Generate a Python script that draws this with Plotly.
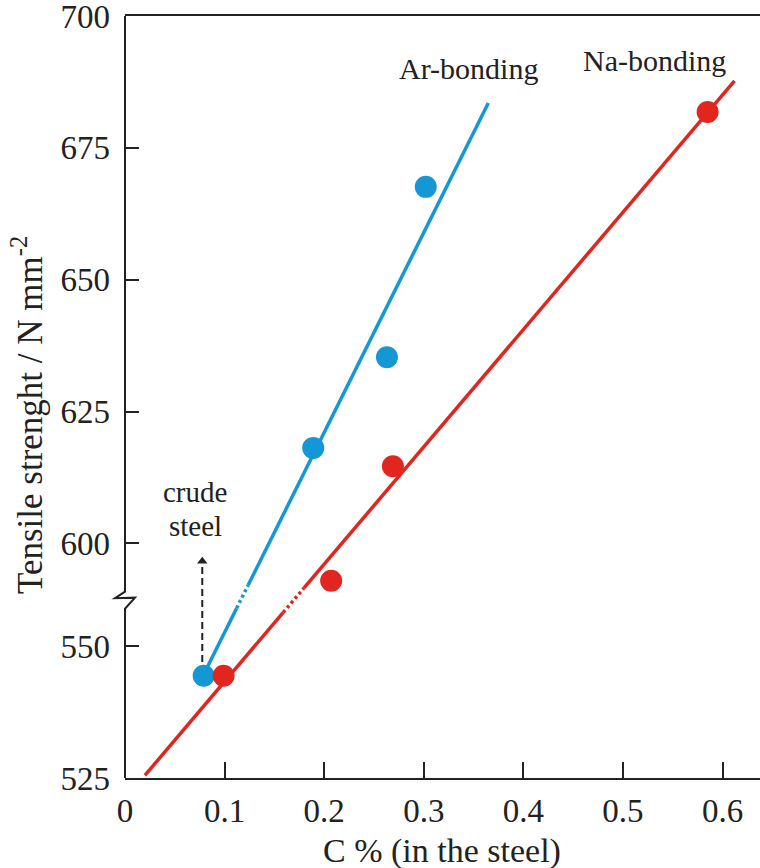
import numpy as np
import plotly.graph_objects as go

# ---------------- data ----------------
ar_x = [0.079, 0.189, 0.263, 0.302]
ar_y = [544.4, 618.1, 635.3, 667.6]
na_x = [0.099, 0.207, 0.269, 0.585]
na_y = [544.4, 592.9, 614.6, 681.8]

# guide (fit) lines: end points
ar_fit_x = [0.0786, 0.3648]
ar_fit_y = [544.5, 683.5]
na_fit_x = [0.020, 0.612]
na_fit_y = [525.5, 687.7]

y_tick_values = [700, 675, 650, 625, 600, 550, 525]
x_tick_values = [0, 0.1, 0.2, 0.3, 0.4, 0.5, 0.6]
x_tick_text = ["0", "0.1", "0.2", "0.3", "0.4", "0.5", "0.6"]

# broken y axis: values below the break are shifted up
BREAK_VALUE = 590.0
Y_SHIFT = 30.5


def disp(v):
    return v if v >= BREAK_VALUE else v + Y_SHIFT


def disp_list(vals):
    return [disp(v) for v in vals]


Y_MIN, Y_MAX = disp(525), 700.0
X_MIN, X_MAX = 0.0, 0.6376

# layout geometry
W, H = 760, 868
ML, MR, MT, MB = 125, 0, 16, 90
PW, PH = W - ML - MR, H - MT - MB

BLUE = "#1497d4"
RED = "#e0261f"
INK = "#222222"
FONT = "Liberation Serif"


def split_line(fx, fy, gap):
    d0, d1 = disp(fy[0]), disp(fy[1])
    x0, x1 = fx
    def x_at(d):
        return x0 + (d - d0) / (d1 - d0) * (x1 - x0)
    g0, g1 = gap
    solid_x = [x0, x_at(g0), None, x_at(g1), x1]
    solid_y = [d0, g0, None, g1, d1]
    dot_x = [x_at(g0), x_at(g1)]
    dot_y = [g0, g1]
    return solid_x, solid_y, dot_x, dot_y


fig = go.Figure()

for fx, fy, gap, col in [(ar_fit_x, ar_fit_y, (587.7, 592.1), BLUE),
                         (na_fit_x, na_fit_y, (586.9, 591.5), RED)]:
    sx, sy, dx, dy = split_line(fx, fy, gap)
    fig.add_trace(go.Scatter(x=sx, y=sy, mode="lines",
                             line=dict(color=col, width=3.5),
                             hoverinfo="skip", showlegend=False))
    fig.add_trace(go.Scatter(x=dx, y=dy, mode="lines",
                             line=dict(color=col, width=3.5, dash="3px,3px"),
                             hoverinfo="skip", showlegend=False))

# crude steel dashed arrow
arrow_x = 0.0776
arrow_from, arrow_to = 547.0, 596.0
fig.add_trace(go.Scatter(x=[arrow_x, arrow_x], y=[disp(arrow_from), disp(arrow_to)],
                         mode="lines", line=dict(color=INK, width=2, dash="7px,4px"),
                         hoverinfo="skip", showlegend=False))
fig.add_trace(go.Scatter(x=[arrow_x], y=[disp(arrow_to) + 0.6], mode="markers",
                         marker=dict(symbol="triangle-up", size=9, color=INK),
                         hoverinfo="skip", showlegend=False))

fig.add_trace(go.Scatter(x=ar_x, y=disp_list(ar_y), mode="markers", name="Ar-bonding",
                         marker=dict(color=BLUE, size=22, line=dict(width=0)),
                         cliponaxis=False, showlegend=False))
fig.add_trace(go.Scatter(x=na_x, y=disp_list(na_y), mode="markers", name="Na-bonding",
                         marker=dict(color=RED, size=22, line=dict(width=0)),
                         cliponaxis=False, showlegend=False))


# left axis line with a break symbol (paper coordinates)
def py(d):
    return (d - Y_MIN) / (Y_MAX - Y_MIN)


def px_off(p):
    return p / PW


path = (f"M {px_off(0)},1 L {px_off(0)},{py(590.85)} "
        f"L {px_off(-10)},{py(589.6)} L {px_off(10)},{py(589.7)} "
        f"L {px_off(0)},{py(587.6)} L {px_off(0)},0")
fig.add_shape(type="path", path=path, xref="paper", yref="paper",
              line=dict(color=INK, width=2), layer="above")

annots = [
    dict(text="Ar-bonding", x=0.3454, y=690.1, size=30),
    dict(text="Na-bonding", x=0.5316, y=691.5, size=30),
    dict(text="crude", x=0.0703, y=disp(609.8), size=29),
    dict(text="steel", x=0.0703, y=disp(603.3), size=29),
]
for a in annots:
    fig.add_annotation(text=a["text"], x=a["x"], y=a["y"], xref="x", yref="y",
                       showarrow=False, xanchor="center", yanchor="middle",
                       font=dict(family=FONT, size=a["size"], color=INK))

fig.add_annotation(text="C % (in the steel)", xref="paper", yref="paper",
                   x=(442 - ML) / PW, y=-(851 - (MT + PH)) / PH,
                   showarrow=False, xanchor="center", yanchor="middle",
                   font=dict(family=FONT, size=34, color=INK))
fig.add_annotation(text="Tensile strenght / N mm<sup>-2</sup>", xref="paper", yref="paper",
                   x=-(ML - 28) / PW, y=1 - (415 - MT) / PH, textangle=-90,
                   showarrow=False, xanchor="center", yanchor="middle",
                   font=dict(family=FONT, size=35, color=INK))

fig.update_layout(
    width=W, height=H,
    margin=dict(l=ML, r=MR, t=MT, b=MB, pad=0),
    paper_bgcolor="white", plot_bgcolor="white",
    font=dict(family=FONT, color=INK),
    showlegend=False,
    xaxis=dict(range=[X_MIN, X_MAX], tickvals=x_tick_values, ticktext=x_tick_text,
               ticks="inside", ticklen=16, tickwidth=2, tickcolor=INK,
               showline=True, linecolor=INK, linewidth=2, mirror=True,
               showgrid=False, zeroline=False, ticklabelstandoff=2,
               ticklabeloverflow="allow",
               tickfont=dict(family=FONT, size=33, color=INK)),
    yaxis=dict(range=[Y_MIN, Y_MAX], tickvals=disp_list(y_tick_values),
               ticktext=[str(v) for v in y_tick_values],
               ticks="inside", ticklen=14, tickwidth=2, tickcolor=INK,
               showline=False, showgrid=False, zeroline=False, ticklabelstandoff=14,
               ticklabeloverflow="allow",
               tickfont=dict(family=FONT, size=33, color=INK)),
)

fig.write_html("out.html",
               config={"displayModeBar": False},
               post_script="document.body.style.margin='0';document.body.style.overflow='hidden';")
